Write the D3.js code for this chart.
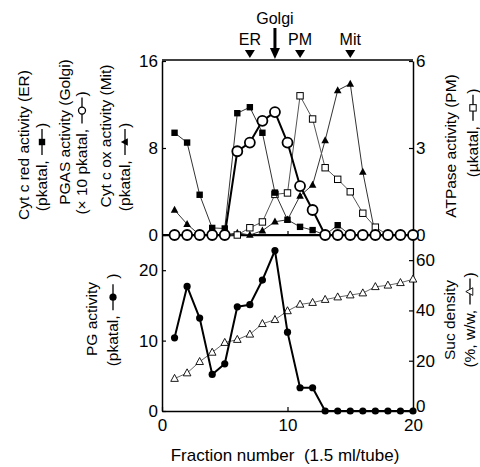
<!DOCTYPE html>
<html><head><meta charset="utf-8">
<script src="https://cdn.jsdelivr.net/npm/d3@7"></script>
<style>
html,body{margin:0;padding:0;background:#fff;}
svg{display:block;font-family:"Liberation Sans",Arial,sans-serif;}
</style></head>
<body><svg id="chart" width="480" height="467"></svg>
<script>
// ---- data ----
const fractions = [1,2,3,4,5,6,7,8,9,10,11,12,13,14,15,16,17,18,19,20];
const erCytRed   = [9.4,8.5,3.7,0.65,0.6,11.2,11.75,9.4,3.9,1.4,0.75,0.45,0,0.9,0,0,0,0,0,0];
const golgiPGAS  = [0,0,0,0,0,7.7,8.5,10.5,11.3,8.5,4.5,2.3,0,0,0,0,0,0,0,0];
const mitCytOx   = [2.3,1.0,0,0,0,0.2,0,0.4,1.22,1.4,3.6,4.6,8.7,13.3,13.9,5.8,0,0,0,0];
const pmATPase   = [0,0,0,0,0,0,0.25,0.45,1.4,1.45,4.8,4.0,2.32,1.92,1.49,0.75,0.27,0,0,0];
const pgActivity = [10.4,17.7,13.2,5.2,6.7,14.8,15.1,18.6,22.8,11.2,3.3,3.3,0,0,0,0,0,0,0,0];
const sucDensity = [12.9,15.1,19.6,23.3,27.2,28.4,30.5,34.7,36.3,39.8,42.4,43.1,44.3,45.3,46.1,46.9,49.4,50.0,51.0,52.4];
const markerNames = ["ER","Golgi","PM","Mit"];
const markerPos   = [7,9,11,15];
const xTicks = [0,10,20];
const topLeftTicks = [0,8,16];
const topRightTicks = [0,3,6];
const botLeftTicks = [0,10,20];
const botRightTicks = [0,20,40,60];

// ---- layout ----
const svg = d3.select("#chart");
const X0=162, X1=413, TOP=61, MID=235, BOT=411;
const x = d3.scaleLinear().domain([0,20]).range([X0,X1]);
const yTL = d3.scaleLinear().domain([0,16]).range([MID,TOP]);
const yTR = d3.scaleLinear().domain([0,6]).range([MID,TOP]);
const yBL = d3.scaleLinear().domain([0,25]).range([BOT,MID]);
const yBR = d3.scaleLinear().domain([0,70]).range([BOT,MID]);
const FS_T = 17, FS_L = 15.5;
const fmt = d3.format("d");

function styleAxis(g){
  g.selectAll("path.domain").attr("stroke","#000").attr("stroke-width",1.5);
  g.selectAll(".tick line").attr("stroke","#000").attr("stroke-width",1.2);
  g.selectAll("text").attr("font-size",FS_T).attr("font-family","Liberation Sans, Arial, sans-serif").attr("fill","#000");
}
// axes
svg.append("g").attr("transform",`translate(${X0},0)`)
  .call(d3.axisLeft(yTL).tickValues(topLeftTicks).tickFormat(fmt).tickSize(-4).tickSizeOuter(0).tickPadding(4)).call(styleAxis);
svg.append("g").attr("transform",`translate(${X1},0)`)
  .call(d3.axisRight(yTR).tickValues(topRightTicks).tickFormat(fmt).tickSize(-4).tickSizeOuter(0).tickPadding(3)).call(styleAxis);
svg.append("g").attr("transform",`translate(${X0},0)`)
  .call(d3.axisLeft(yBL).tickValues(botLeftTicks).tickFormat(fmt).tickSize(-4).tickSizeOuter(0).tickPadding(4)).call(styleAxis);
svg.append("g").attr("transform",`translate(${X1},0)`)
  .call(d3.axisRight(yBR).tickValues(botRightTicks).tickFormat(fmt).tickSize(-4).tickSizeOuter(0).tickPadding(3)).call(styleAxis)
  .call(g=>g.selectAll(".tick").filter(d=>d===0).select("text").attr("dy","0.05em"));
svg.append("g").attr("transform",`translate(0,${BOT})`)
  .call(d3.axisBottom(x).tickValues(xTicks).tickFormat(fmt).tickSize(-4).tickSizeOuter(0).tickPadding(8)).call(styleAxis);
svg.append("g").attr("transform",`translate(0,${MID})`)
  .call(d3.axisBottom(x).tickValues([10]).tickSize(-4).tickSizeOuter(0).tickFormat("")).call(styleAxis);
// top border and divider
svg.append("line").attr("x1",X0).attr("x2",X1).attr("y1",TOP-1).attr("y2",TOP-1).attr("stroke","#000").attr("stroke-width",1.5);
svg.append("line").attr("x1",X0).attr("x2",X1).attr("y1",MID).attr("y2",MID).attr("stroke","#000").attr("stroke-width",2);

// top markers
markerNames.forEach((n,i)=>{
  const cx = x(markerPos[i]);
  if(n==="Golgi"){
    svg.append("line").attr("x1",cx).attr("x2",cx).attr("y1",28).attr("y2",50).attr("stroke","#000").attr("stroke-width",3);
    svg.append("path").attr("d",`M${cx-5},48 L${cx+5},48 L${cx},59 Z`).attr("fill","#000");
    svg.append("text").attr("x",cx).attr("y",24).attr("text-anchor","middle").attr("font-size",16).text(n);
  } else {
    svg.append("path").attr("d",`M${cx-5},50 L${cx+5},50 L${cx},58 Z`).attr("fill","#000");
    svg.append("text").attr("x",cx).attr("y",45).attr("text-anchor","middle").attr("font-size",16).text(n);
  }
});

// ---- symbols ----
function sym(g, type, cx, cy){
  switch(type){
    case "sq": g.append("rect").attr("x",cx-3.2).attr("y",cy-3.2).attr("width",6.4).attr("height",6.4).attr("fill","#000"); break;
    case "osq": g.append("rect").attr("x",cx-3.2).attr("y",cy-3.2).attr("width",6.4).attr("height",6.4).attr("fill","#fff").attr("stroke","#000").attr("stroke-width",1); break;
    case "oc": g.append("circle").attr("cx",cx).attr("cy",cy).attr("r",5).attr("fill","#fff").attr("stroke","#000").attr("stroke-width",1.8); break;
    case "ocs": g.append("circle").attr("cx",cx).attr("cy",cy).attr("r",3.5).attr("fill","#fff").attr("stroke","#000").attr("stroke-width",1.3); break;
    case "tri": g.append("path").attr("d",`M${cx},${cy-4.2} L${cx+3.8},${cy+2.8} L${cx-3.8},${cy+2.8} Z`).attr("fill","#000"); break;
    case "otri": g.append("path").attr("d",`M${cx},${cy-4.2} L${cx+3.8},${cy+2.8} L${cx-3.8},${cy+2.8} Z`).attr("fill","#fff").attr("stroke","#000").attr("stroke-width",0.9); break;
    case "dot": g.append("circle").attr("cx",cx).attr("cy",cy).attr("r",3.6).attr("fill","#000"); break;
  }
}
function series(data, yS, type, lw, color){
  const g = svg.append("g");
  const line = d3.line().x((d,i)=>x(fractions[i])).y(d=>yS(d));
  g.append("path").datum(data).attr("d",line).attr("fill","none").attr("stroke",color).attr("stroke-width",lw).attr("stroke-linejoin","round");
  data.forEach((d,i)=>sym(g,type,x(fractions[i]),yS(d)));
}
// top panel
series(mitCytOx, yTL, "tri", 1, "#333");
series(pmATPase, yTR, "osq", 1, "#555");
series(erCytRed, yTL, "sq", 1, "#333");
series(golgiPGAS, yTL, "oc", 2, "#000");
// bottom panel
series(sucDensity, yBR, "otri", 1, "#666");
series(pgActivity, yBL, "dot", 2, "#000");

// ---- rotated labels ----
function vlabel(cx, cy, parts){
  const g = svg.append("g").attr("transform",`translate(${cx},${cy}) rotate(-90)`);
  const inner = g.append("g");
  let pos = 0;
  parts.forEach(p=>{
    if(typeof p === "string"){
      const t = inner.append("text").attr("x",pos).attr("y",0).attr("dy","0.35em").attr("font-size",FS_L).attr("fill","#000").style("white-space","pre").text(p);
      pos += t.node().getComputedTextLength();
    } else {
      const w = 28;
      inner.append("line").attr("x1",pos+1).attr("x2",pos+w-1).attr("y1",0).attr("y2",0).attr("stroke","#000").attr("stroke-width",1.3);
      sym(inner, p.sym, pos+w/2, 0);
      pos += w;
    }
  });
  inner.attr("transform",`translate(${-pos/2},0)`);
}
vlabel(24,145,["Cyt c red activity (ER)"]);
vlabel(42,167,["(pkatal, ",{sym:"sq"},")"]);
vlabel(65,132,["PGAS activity (Golgi)"]);
vlabel(82,153,["(\u00D7 10 pkatal, ",{sym:"ocs"},")"]);
vlabel(106,136,["Cyt c ox activity (Mit)"]);
vlabel(125,167,["(pkatal, ",{sym:"tri"},")"]);
vlabel(451,146,["ATPase activity (PM)"]);
vlabel(473,133,["(\u00B5katal, ",{sym:"osq"},")"]);
vlabel(92,319,["PG activity"]);
vlabel(113,320,["(pkatal, ",{sym:"dot"}," )"]);
vlabel(450,320,["Suc density"]);
vlabel(470,320,["(%, w/w, ",{sym:"otri"},")"]);

// x axis title
svg.append("text").attr("x",285).attr("y",461).attr("text-anchor","middle").attr("font-size",FS_T)
  .style("white-space","pre").text("Fraction number  (1.5 ml/tube)");
</script></body></html>
